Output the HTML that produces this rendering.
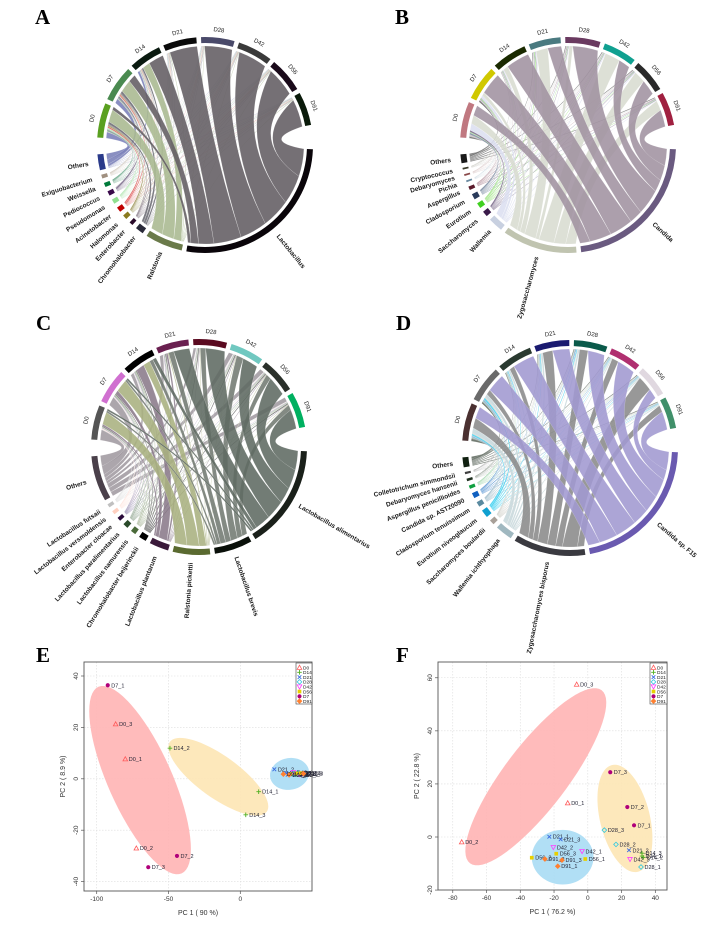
<!DOCTYPE html>
<html><head><meta charset="utf-8"><style>
html,body{margin:0;padding:0;background:#fff;}
svg{display:block;font-family:"Liberation Sans",sans-serif;}
</style></head><body>
<svg id="fig" width="724" height="925" viewBox="0 0 724 925" xmlns="http://www.w3.org/2000/svg">
<rect width="724" height="925" fill="#fff"/>
<g font-family="Liberation Serif,serif" font-weight="bold" font-size="21" fill="#000">
<text x="35" y="24">A</text>
<text x="395" y="24">B</text>
<text x="36" y="330">C</text>
<text x="396" y="330">D</text>
<text x="36" y="662">E</text>
<text x="396" y="662">F</text>
</g>
<g id="chordA"></g>
<g id="chordB"></g>
<g id="chordC"></g>
<g id="chordD"></g>
<g id="pcaE"></g>
<g id="pcaF"></g>
</svg>
<script>
// ---------- chord data ----------
const sampleNames = ["D0","D7","D14","D21","D28","D42","D56","D91"];

const aTaxa = ["Lactobacillus","Ralstonia","Chromohalobacter","Enterobacter","Halomonas","Acinetobacter","Pseudomonas","Pediococcus","Weissella","Exiguobacterium","Others"];
const aMatrix = [
 [2,8,1.5,0.5,1,1,1,0.5,0.8,0.5,4],
 [5,8,1.5,0.5,0.5,0.8,0.5,1,0.5,0.5,3],
 [10,5,1,0.3,0.3,0.3,0.3,0.3,0.3,0.3,1.5],
 [18,0.4,0.2,0.2,0.2,0.2,0.2,0.2,0.2,0.2,0.2],
 [18,0.3,0.2,0.2,0.2,0.2,0.2,0.2,0.2,0.2,0.2],
 [19,0.3,0.2,0.2,0.2,0.2,0.2,0.2,0.2,0.2,0.2],
 [19,0.3,0.2,0.2,0.2,0.2,0.2,0.2,0.2,0.2,0.2],
 [18,0.3,0.2,0.2,0.2,0.2,0.2,0.2,0.2,0.2,0.2]];
const aSampleColors = ["#5aa020","#4a8a50","#0a1a10","#0a0a0a","#4a4a6a","#3a3a3a","#1a0a1a","#0a1a0a"];
const aTaxaColors = ["#0a050a","#6a7a4a","#2a2a3a","#2a0a2a","#8a7a20","#c00000","#90e090","#3a0a4a","#007a3a","#a09080","#2a3a8a"];
const aRibbonColors = ["#625c62","#a8b890","#6a6a72","#6a5a6a","#a09a60","#e06060","#b8e8b8","#7a6a8a","#60a080","#c8beb0","#7a80b8"];

const bTaxa = ["Candida","Zygosaccharomyces","Wallemia","Saccharomyces","Eurotium","Cladosporium","Aspergillus","Pichia","Debaryomyces","Cryptococcus","Others"];
const bMatrix = [
 [6,5,4,1,0.5,1,0.3,0.3,0.3,0.3,1],
 [13,2,1.5,0.3,0.5,0.3,0.3,0.1,0.1,0.1,1],
 [14,3,0.5,0.3,0.3,0.3,0.2,0.1,0.1,0.1,0.3],
 [8,7,0.5,0.3,0.5,0.3,0.2,0.1,0.1,0.1,0.5],
 [15,2,0.3,0.3,0.3,0.3,0.3,0.1,0.1,0.1,0.5],
 [7,9,0.5,0.3,0.3,0.3,0.2,0.1,0.1,0.1,0.5],
 [9,7,0.5,0.3,0.3,0.3,0.2,0.1,0.1,0.1,0.5],
 [10,6,0.3,0.3,0.3,0.3,0.3,0.1,0.1,0.1,0.5]];
const bSampleColors = ["#c07880","#d0c800","#1a2a00","#4a7a80","#6a3a60","#10a090","#2a2a2a","#a02040"];
const bTaxaColors = ["#6a5a80","#c0c4b0","#c8d0e0","#3a1a4a","#40d020","#2a3a5a","#5a1a2a","#6a8aa0","#8a4a4a","#3a3a2a","#1a1a1a"];
const bRibbonColors = ["#a092a0","#d8dcd0","#dcdff0","#7a6a8a","#90e070","#7a8aa0","#9a6a7a","#a0b8c8","#b08a8a","#8a8a7a","#6a6a6a"];

const cTaxa = ["Lactobacillus alimentarius","Lactobacillus brevis","Ralstonia pickettii","Lactobacillus plantarum","Chromohalobacter beijerinckii","Lactobacillus namurensis","Lactobacillus paralimentarius","Enterobacter cloacae","Lactobacillus versmoldensis","Lactobacillus futsaii","Others"];
const cMatrix = [
 [1,1,7,1,0.5,0.3,0.3,0.3,0.5,0.3,6],
 [1,1,7,2,0.5,0.5,0.5,0.3,0.3,0.3,5],
 [2,2,4,5,0.5,0.5,0.5,0.3,0.2,0.3,2],
 [9,3,0.5,1,0.5,0.3,0.3,0.3,0.2,0.2,2],
 [11,3,0.3,0.3,0.5,0.3,0.3,0.2,0.2,0.2,1.5],
 [9,4,0.3,0.3,0.5,0.3,0.3,0.2,0.2,0.2,2.5],
 [11,3,0.3,0.3,0.5,0.3,0.3,0.2,0.2,0.2,2.5],
 [11,3,0.3,0.3,0.5,0.3,0.3,0.2,0.2,0.2,2.5]];
const cSampleColors = ["#555555","#d070d0","#000000","#6a2050","#5a0a20","#70c8c0","#2a302a","#00b060"];
const cTaxaColors = ["#1a201a","#0a100a","#5a6a30","#3a1a3a","#000000","#4a6a3a","#2a4a2a","#2a0a3a","#ffd0c0","#c0c0c0","#4a404a"];
const cRibbonColors = ["#5e6a62","#727a72","#a8b080","#8a7a8a","#555555","#a0b090","#8aa08a","#7a6a9a","#ffe0d8","#d0d0d0","#a09aa0"];

const dTaxa = ["Candida sp. F15","Zygosaccharomyces bisporus","Wallemia ichthyophaga","Saccharomyces boulardii","Eurotium niveoglaucum","Cladosporium tenuissimum","Candida sp. AST20090","Aspergillus penicillioides","Debaryomyces hansenii","Colletotrichum simmondsii","Others"];
const dMatrix = [
 [7,6,3,0.5,1,0.5,0.5,0.3,0.3,0.3,1.5],
 [11,3,2,0.5,1,0.5,0.5,0.3,0.2,0.2,1],
 [13,3,1,0.3,0.5,0.3,0.3,0.3,0.2,0.2,0.5],
 [10,6,1,0.3,0.5,0.3,0.3,0.2,0.2,0.1,0.5],
 [10,5,1,0.3,0.5,0.3,0.5,0.2,0.2,0.1,0.5],
 [11,4,0.5,0.3,0.3,0.3,0.3,0.2,0.1,0.1,0.5],
 [6,9,0.5,0.3,0.3,0.3,0.3,0.2,0.1,0.1,0.5],
 [11,4,0.5,0.3,0.3,0.3,0.3,0.2,0.1,0.1,0.5]];
const dSampleColors = ["#4a3030","#6a6a6a","#2a3a30","#1a1a70","#0a5a4a","#b03070","#e0d8e0","#40906a"];
const dTaxaColors = ["#6a5ab0","#3a3a40","#a0b8c0","#a8a098","#10a0d0","#5a8aa0","#1060c0","#10a040","#203020","#404040","#102010"];
const dRibbonColors = ["#a098d0","#8a8a8a","#c8d8dc","#c8c8c0","#40d0f0","#90b0c0","#5090d0","#80c890","#5a6a5a","#6a6a6a","#606a60"];

const NS = "http://www.w3.org/2000/svg";
function mk(tag, attrs, parent){const e=document.createElementNS(NS,tag);for(const k in attrs)e.setAttribute(k,attrs[k]);if(parent)parent.appendChild(e);return e;}
function pt(cx,cy,r,a){const t=a*Math.PI/180;return [cx+r*Math.sin(t), cy-r*Math.cos(t)];}
function f(n){return n.toFixed(2);}

function drawChord(gid, cx, cy, taxa, matrix, sCol, tCol, rCol){
  const g=document.getElementById(gid);
  const R=108, W=6, RI=R-W, RR=RI-3;
  const gap=2.5, gb1=13, gb2=9, start=274;
  const ns=sampleNames.length, nt=taxa.length;
  const rowS=matrix.map(r=>r.reduce((a,b)=>a+b,0));
  const colS=taxa.map((_,j)=>matrix.reduce((a,r)=>a+r[j],0));
  const T=rowS.reduce((a,b)=>a+b,0);
  const avail=360-(ns-1)*gap-(nt-1)*gap-gb1-gb2;
  const k=avail/(2*T);
  const sArc=[],tArc=[];
  let a=start;
  for(let i=0;i<ns;i++){sArc.push([a,a+rowS[i]*k]);a+=rowS[i]*k+gap;}
  a=a-gap+gb1;
  for(let j=0;j<nt;j++){tArc.push([a,a+colS[j]*k]);a+=colS[j]*k+gap;}
  const sSub={},tSub={};
  for(let i=0;i<ns;i++){let p=sArc[i][0];for(let j=nt-1;j>=0;j--){const w=matrix[i][j]*k;sSub[i+"_"+j]=[p,p+w];p+=w;}}
  for(let j=0;j<nt;j++){let p=tArc[j][0];for(let i=ns-1;i>=0;i--){const w=matrix[i][j]*k;tSub[i+"_"+j]=[p,p+w];p+=w;}}
  function ctrl(a1,a2){
    const delta=((a2-a1+540)%360)-180;
    const mid=a1+delta/2, d=Math.abs(delta);
    const rc=RR*Math.max(0,1-d/180)*0.6;
    return pt(cx,cy,rc,mid);
  }
  const rib=mk("g",{},g);
  
  
  for(let j=nt-1;j>=0;j--){
    for(let i=0;i<ns;i++){
      if(matrix[i][j]<=0)continue;
      const [a1,a2]=sSub[i+"_"+j],[b1,b2]=tSub[i+"_"+j];
      const p1=pt(cx,cy,RR,a1),p2=pt(cx,cy,RR,a2),q1=pt(cx,cy,RR,b1),q2=pt(cx,cy,RR,b2);
      const c1=ctrl(a2,b1),c2=ctrl(b2,a1);
      const d=`M${f(p1[0])},${f(p1[1])}A${RR},${RR} 0 0 1 ${f(p2[0])},${f(p2[1])}Q${f(c1[0])},${f(c1[1])} ${f(q1[0])},${f(q1[1])}A${RR},${RR} 0 ${(b2-b1)>180?1:0} 1 ${f(q2[0])},${f(q2[1])}Q${f(c2[0])},${f(c2[1])} ${f(p1[0])},${f(p1[1])}Z`;
      const p=mk("path",{d:d,fill:rCol[j],"fill-opacity":"0.88",stroke:"#fff","stroke-width":"0.3","stroke-opacity":"0.5"},rib);
      
      
    }
  }
  function band(a1,a2,col,name){
    const o1=pt(cx,cy,R,a1),o2=pt(cx,cy,R,a2),i1=pt(cx,cy,RI,a1),i2=pt(cx,cy,RI,a2);
    const lg=(a2-a1)>180?1:0;
    const p=mk("path",{d:`M${f(o1[0])},${f(o1[1])}A${R},${R} 0 ${lg} 1 ${f(o2[0])},${f(o2[1])}L${f(i2[0])},${f(i2[1])}A${RI},${RI} 0 ${lg} 0 ${f(i1[0])},${f(i1[1])}Z`,fill:col},g);
    
    
  }
  for(let i=0;i<ns;i++){
    band(sArc[i][0],sArc[i][1],sCol[i],'sector-'+sampleNames[i].toLowerCase());
    const m=(sArc[i][0]+sArc[i][1])/2, p=pt(cx,cy,R+6,m);
    const t=mk("text",{x:f(p[0]),y:f(p[1]),"font-size":"6","text-anchor":"middle",fill:"#222",transform:`rotate(${f(m)} ${f(p[0])} ${f(p[1])})`},g);
    
    
    t.textContent=sampleNames[i];
  }
  for(let j=0;j<nt;j++){
    const name=taxa[j].toLowerCase().replace(/[^a-z0-9]+/g,'-');
    band(tArc[j][0],tArc[j][1],tCol[j],'sector-'+name);
    const m=(tArc[j][0]+tArc[j][1])/2, mm=((m%360)+360)%360;
    const p=pt(cx,cy,R+(j<3?8:10),m);
    let rot,anc;
    if(mm<180){rot=mm-90;anc="start";}else{rot=mm-270;anc="end";}
    const t=mk("text",{x:f(p[0]),y:f(p[1]+2),"font-size":"6.5","font-weight":"bold","text-anchor":anc,fill:"#1a1a1a",transform:`rotate(${f(rot)} ${f(p[0])} ${f(p[1])})`},g);
    
    
    t.textContent=taxa[j];
  }
}
drawChord("chordA",205,145,aTaxa,aMatrix,aSampleColors,aTaxaColors,aRibbonColors);
drawChord("chordB",568,145,bTaxa,bMatrix,bSampleColors,bTaxaColors,bRibbonColors);
drawChord("chordC",199,447,cTaxa,cMatrix,cSampleColors,cTaxaColors,cRibbonColors);
drawChord("chordD",570,448,dTaxa,dMatrix,dSampleColors,dTaxaColors,dRibbonColors);

// ---------- PCA data ----------
const groupNames = ["D0","D14","D21","D28","D42","D56","D7","D91"];
const groupColors = ["#ff5a5a","#50b020","#3a6ae0","#30c8e0","#ff40ff","#e8d000","#b0007a","#ff8030"];
const groupShapes = ["tri","plus","x","diamond","dtri","square","star","diamond"];

const eLabels = ["D7_1","D0_3","D0_1","D14_2","D21_2","D14_1","D14_3","D0_2","D7_2","D7_3","D21_1","D21_3","D28_1","D28_2","D28_3","D42_1","D42_2","D42_3","D56_1","D56_2","D56_3","D91_1","D91_2","D91_3"];
const eX = [-92.3,-86.8,-80.1,-49,23.7,12.8,3.8,-72.4,-44.1,-64.1,32,33,36,38,40,37,41,43,35,39,42,34,30,44];
const eY = [36.4,21.3,7.7,11.9,3.7,-5.0,-14.0,-27.0,-30.0,-34.4,2.2,1.6,2,1.8,2.3,2.5,1.7,2.0,1.9,2.1,2.2,1.5,1.8,2];
const eXTicks = [-100,-50,0];
const eYTicks = [-40,-20,0,20,40];
const eEllCx = [-69.8,-15.3,34.3];
const eEllCy = [-0.5,0.8,1.9];
const eEllU = [[-29,36.3],[-33.7,13.6],[13.6,0.5]];
const eEllV = [[20.3,5.1],[-8.6,-6.6],[0,6.2]];
const eEllColors = ["#ffb4b4","#fde6b4","#a8dcf4"];

const fLabels = ["D0_3","D0_1","D0_2","D7_3","D7_2","D7_1","D28_3","D28_2","D21_2","D14_3","D14_1","D14_2","D42_3","D28_1","D21_1","D21_3","D42_2","D56_3","D42_1","D56_2","D91_2","D91_3","D56_1","D91_1"];
const fX = [-6.6,-11.9,-74.7,13.3,23.4,27.4,9.8,16.7,24.4,32.1,32.1,32.9,25,31.5,-22.8,-16.1,-20.4,-18.7,-3.4,-33.2,-25.4,-15.3,-1.5,-17.8];
const fY = [57.5,12.8,-1.9,24.4,11.3,4.4,2.6,-2.8,-5.0,-6.1,-7.2,-7.7,-8.4,-11.3,0.1,-0.9,-3.9,-6.3,-5.4,-7.8,-8.3,-8.7,-8.3,-11.0];
const fXTicks = [-80,-60,-40,-20,0,20,40];
const fYTicks = [-20,0,20,40,60];
const fEllCx = [-30.8,22.0,-14.9];
const fEllCy = [22.7,7.0,-7.6];
const fEllU = [[39,32.6],[-7.8,20.1],[18.3,0]];
const fEllV = [[14.9,-7.2],[14.3,2.4],[0,10.3]];
const fEllColors = ["#ffb4b4","#fde6b4","#a8dcf4"];

function marker(g,x,y,shape,col,name){
  let e;
  const s=2.3;
  if(shape==="tri") e=mk("path",{d:`M${x},${y-s}L${x+s},${y+s*0.8}L${x-s},${y+s*0.8}Z`,fill:"none",stroke:col,"stroke-width":"0.8"},g);
  else if(shape==="dtri") e=mk("path",{d:`M${x},${y+s}L${x+s},${y-s*0.8}L${x-s},${y-s*0.8}Z`,fill:"none",stroke:col,"stroke-width":"0.8"},g);
  else if(shape==="plus") e=mk("path",{d:`M${x-s},${y}H${x+s}M${x},${y-s}V${y+s}`,stroke:col,"stroke-width":"0.9"},g);
  else if(shape==="x") e=mk("path",{d:`M${x-s*0.8},${y-s*0.8}L${x+s*0.8},${y+s*0.8}M${x+s*0.8},${y-s*0.8}L${x-s*0.8},${y+s*0.8}`,stroke:col,"stroke-width":"0.9"},g);
  else if(shape==="diamond") e=mk("path",{d:`M${x},${y-s}L${x+s},${y}L${x},${y+s}L${x-s},${y}Z`,fill:col==="#ff8030"?col:"none",stroke:col,"stroke-width":"0.8"},g);
  else if(shape==="square") e=mk("rect",{x:x-s*0.8,y:y-s*0.8,width:s*1.6,height:s*1.6,fill:col},g);
  else e=mk("circle",{cx:x,cy:y,r:s*0.9,fill:col},g);
  
  
}

function drawPCA(gid,box,sx,sy,xt,yt,labels,X,Y,ecx,ecy,eu,ev,ecol,xTitle,yTitle,legendX){
  const g=document.getElementById(gid);
  const [x0,y0,x1,y1]=box;
  xt.forEach(v=>{const l=mk("line",{x1:sx(v),x2:sx(v),y1:y0,y2:y1,stroke:"#ddd","stroke-width":"0.6","stroke-dasharray":"1.5,1.5"},g);});
  yt.forEach(v=>{const l=mk("line",{x1:x0,x2:x1,y1:sy(v),y2:sy(v),stroke:"#ddd","stroke-width":"0.6","stroke-dasharray":"1.5,1.5"},g);});
  for(let k=0;k<ecx.length;k++){
    let d="";
    for(let s=0;s<=72;s++){const t=s/72*2*Math.PI;const dx=ecx[k]+Math.cos(t)*eu[k][0]+Math.sin(t)*ev[k][0];const dy=ecy[k]+Math.cos(t)*eu[k][1]+Math.sin(t)*ev[k][1];d+=(s?"L":"M")+f(sx(dx))+","+f(sy(dy));}
    const p=mk("path",{d:d+"Z",fill:ecol[k],"fill-opacity":"0.9"},g);
    
    
  }
  for(let i=0;i<labels.length;i++){
    const grp=labels[i].split("_")[0], gi=groupNames.indexOf(grp);
    const x=sx(X[i]),y=sy(Y[i]);
    marker(g,x,y,groupShapes[gi],groupColors[gi],'point-'+labels[i].toLowerCase());
    const t=mk("text",{x:f(x+3.5),y:f(y+2),"font-size":"5.5",fill:"#223"},g);
    
    
    t.textContent=labels[i];
  }
  const b=mk("rect",{x:x0,y:y0,width:x1-x0,height:y1-y0,fill:"none",stroke:"#555","stroke-width":"0.9"},g);
  
  xt.forEach(v=>{const x=sx(v);mk("line",{x1:x,x2:x,y1:y1,y2:y1+3,stroke:"#555","stroke-width":"0.7"},g);const t=mk("text",{x:x,y:y1+10,"font-size":"6.5","text-anchor":"middle",fill:"#333"},g);t.textContent=v;});
  yt.forEach(v=>{const y=sy(v);mk("line",{x1:x0-3,x2:x0,y1:y,y2:y,stroke:"#555","stroke-width":"0.7"},g);const t=mk("text",{x:x0-6,y:y,"font-size":"6.5","text-anchor":"middle",fill:"#333",transform:`rotate(-90 ${x0-6} ${y})`},g);t.textContent=v;});
  const xtl=mk("text",{x:(x0+x1)/2,y:y1+24,"font-size":"7","text-anchor":"middle",fill:"#333"},g);
  xtl.textContent=xTitle;
  const yx=x0-19, yy=(y0+y1)/2;
  const ytl=mk("text",{x:yx,y:yy,"font-size":"7","text-anchor":"middle",fill:"#333",transform:`rotate(-90 ${yx} ${yy})`},g);
  ytl.textContent=yTitle;
  const lg=mk("g",{},g);
  
  mk("rect",{x:legendX,y:y0+1,width:x1-legendX,height:41,fill:"#fff",stroke:"#444","stroke-width":"0.6"},lg);
  for(let k=0;k<groupNames.length;k++){
    const yy2=y0+5.5+k*4.8;
    marker(lg,legendX+3.5,yy2,groupShapes[k],groupColors[k],'legend-marker-'+groupNames[k].toLowerCase());
    const t=mk("text",{x:legendX+7,y:yy2+1.8,"font-size":"4.8",fill:"#222"},lg);
    
    
    t.textContent=groupNames[k];
  }
}
drawPCA("pcaE",[84,662,312,891],v=>240.3+v*1.436,v=>778.8-v*2.57,eXTicks,eYTicks,eLabels,eX,eY,eEllCx,eEllCy,eEllU,eEllV,eEllColors,"PC 1 ( 90 %)","PC 2 ( 8.9 %)",296);
drawPCA("pcaF",[438,662,667,890],v=>587.8+v*1.688,v=>837-v*2.654,fXTicks,fYTicks,fLabels,fX,fY,fEllCx,fEllCy,fEllU,fEllV,fEllColors,"PC 1 ( 76.2 %)","PC 2 ( 22.8 %)",650);
</script>
</body></html>
